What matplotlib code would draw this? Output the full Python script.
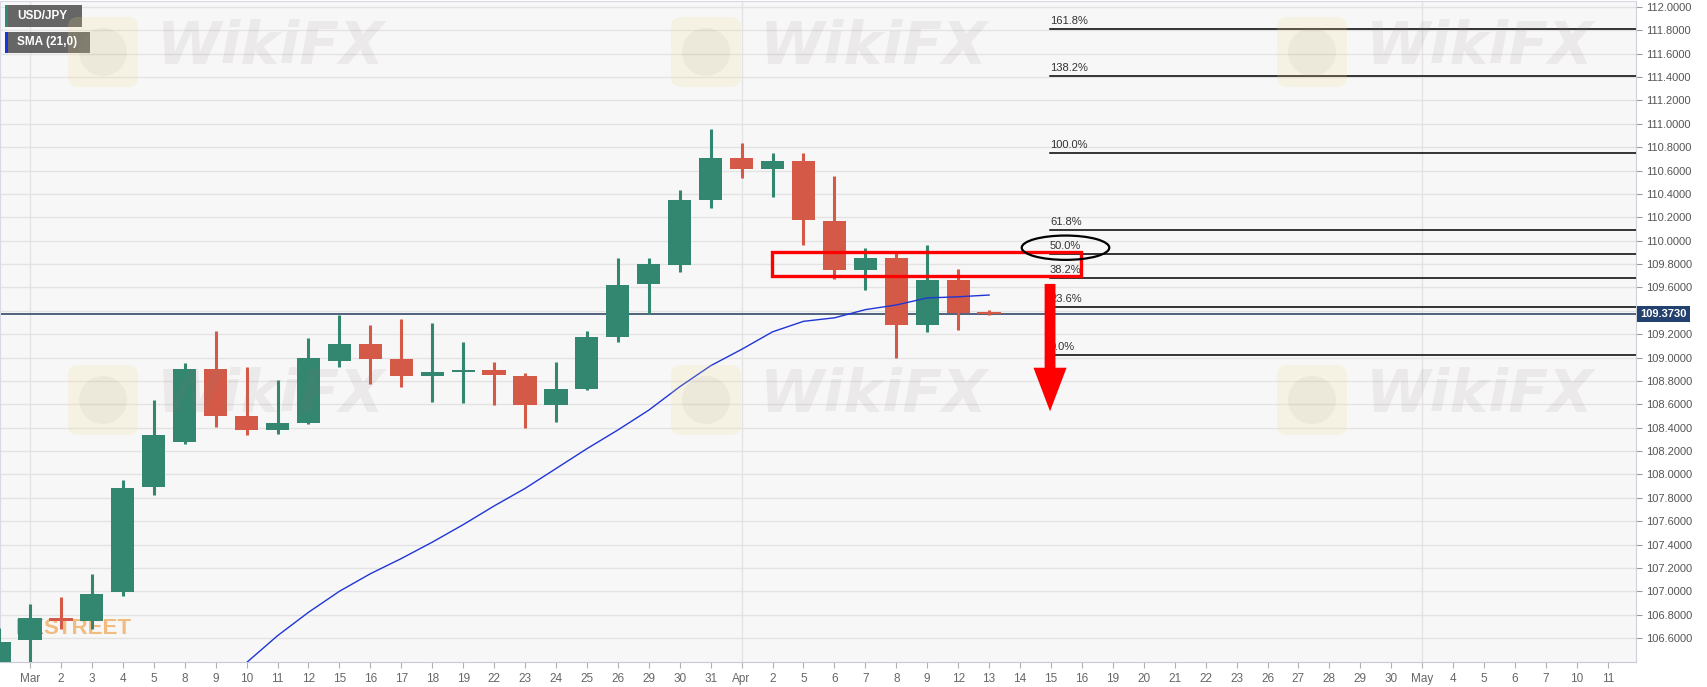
#!/usr/bin/env python3
# USD/JPY daily candles with SMA(21), fibonacci levels and markup
import numpy as np
import matplotlib
matplotlib.use('Agg')
import matplotlib.pyplot as plt
from matplotlib import font_manager
from matplotlib.patches import Ellipse, Rectangle, FancyBboxPatch, Circle
import matplotlib.transforms as mtransforms

sessions = ['Feb 26',
            'Mar 1', 'Mar 2', 'Mar 3', 'Mar 4', 'Mar 5', 'Mar 8', 'Mar 9', 'Mar 10',
            'Mar 11', 'Mar 12', 'Mar 15', 'Mar 16', 'Mar 17', 'Mar 18', 'Mar 19',
            'Mar 22', 'Mar 23', 'Mar 24', 'Mar 25', 'Mar 26', 'Mar 29', 'Mar 30',
            'Mar 31', 'Apr 1', 'Apr 2', 'Apr 5', 'Apr 6', 'Apr 7', 'Apr 8', 'Apr 9',
            'Apr 12', 'Apr 13', 'Apr 14', 'Apr 15', 'Apr 16', 'Apr 19', 'Apr 20',
            'Apr 21', 'Apr 22', 'Apr 23', 'Apr 26', 'Apr 27', 'Apr 28', 'Apr 29',
            'Apr 30', 'May 3', 'May 4', 'May 5', 'May 6', 'May 7', 'May 10', 'May 11']

# OHLC from Feb 26 to Apr 13
opens = [106.30, 106.58, 106.77, 106.75, 106.99, 107.89, 108.28, 108.90, 108.50,
         108.38, 108.44, 108.97, 109.12, 108.99, 108.84, 108.88, 108.89, 108.84,
         108.59, 108.73, 109.18, 109.63, 109.79, 110.35, 110.71, 110.61, 110.68,
         110.17, 109.75, 109.85, 109.28, 109.66, 109.39]
highs = [106.69, 106.89, 106.95, 107.15, 107.95, 108.64, 108.95, 109.23, 108.92,
         108.81, 109.17, 109.36, 109.28, 109.33, 109.30, 109.13, 108.96, 108.87,
         108.96, 109.23, 109.85, 109.85, 110.43, 110.96, 110.84, 110.75, 110.75,
         110.55, 109.94, 109.90, 109.96, 109.76, 109.41]
lows = [106.25, 106.36, 106.68, 106.68, 106.96, 107.82, 108.26, 108.41, 108.34,
        108.35, 108.43, 108.92, 108.77, 108.75, 108.62, 108.61, 108.59, 108.40,
        108.45, 108.72, 109.13, 109.37, 109.73, 110.28, 110.54, 110.37, 109.96,
        109.67, 109.58, 109.00, 109.22, 109.24, 109.36]
closes = [106.57, 106.77, 106.75, 106.98, 107.88, 108.34, 108.90, 108.50, 108.38,
          108.44, 109.00, 109.12, 108.99, 108.84, 108.88, 108.89, 108.85, 108.59,
          108.73, 109.18, 109.62, 109.80, 110.35, 110.71, 110.61, 110.68, 110.18,
          109.75, 109.85, 109.28, 109.66, 109.38, 109.373]

# SMA(21) from Mar 9 to Apr 13
sma_start = 'Mar 9'
sma = [106.16, 106.39, 106.62, 106.82, 107.00, 107.15, 107.28, 107.42, 107.57,
       107.73, 107.88, 108.05, 108.22, 108.38, 108.55, 108.75, 108.93, 109.07,
       109.22, 109.31, 109.34, 109.41, 109.45, 109.51, 109.52, 109.535]

last_price = 109.373

fib_labels = ['161.8%', '138.2%', '100.0%', '61.8%', '50.0%', '38.2%', '23.6%', '0.0%']
fib_prices = [111.814, 111.407, 110.748, 110.092, 109.883, 109.683, 109.433, 109.022]
fib_start = 'Apr 15'

yticks = np.round(np.arange(106.6, 112.01, 0.2), 1)

names = {f.name for f in font_manager.fontManager.ttflist}
base_font = 'Liberation Sans' if 'Liberation Sans' in names else 'DejaVu Sans'
narrow_font = 'Liberation Sans Narrow' if 'Liberation Sans Narrow' in names else base_font
plt.rcParams['font.family'] = [base_font, 'DejaVu Sans']

green = '#33866f'
red = '#d45a47'
W, H = 1707, 687

fig = plt.figure(figsize=(W / 100, H / 100), dpi=100)
ax = fig.add_axes([0, 25 / H, 1636 / W, 661 / H])
ax.set_facecolor('#f7f7f7')

x = np.arange(len(sessions))
xc = x[:len(opens)]
o = np.array(opens)
c = np.array(closes)
up = c >= o
cols = np.where(up, green, red)
bottoms = np.minimum(o, c)
heights = np.maximum(np.abs(c - o), 0.012)

ax.vlines(xc, lows, highs, colors=cols, linewidth=2.2, zorder=3)
ax.bar(xc, heights, bottom=bottoms, width=0.75, color=cols, zorder=4)

s0 = sessions.index(sma_start)
ax.plot(x[s0:s0 + len(sma)], sma, color='#1f35d6', linewidth=1.0, zorder=5)

ax.axhline(last_price, color='#23395d', linewidth=1.1, zorder=2.5)

f0 = sessions.index(fib_start)
for lab, p in zip(fib_labels, fib_prices):
    ax.plot([f0 - 0.03, 60], [p, p], color='black', linewidth=1.1, zorder=5)
    ax.text(f0 - 0.03, p + 0.025, lab, fontsize=8, color='#333333',
            ha='left', va='bottom', zorder=5)

# red zone, ellipse and arrow
ax.add_patch(Rectangle((24.97, 109.702), 10.0, 0.204, fill=False,
                       edgecolor='#ff0000', linewidth=2.4, zorder=6))
ax.add_patch(Ellipse((34.47, 109.94), 2.83, 0.208, fill=False,
                     edgecolor='black', linewidth=1.6, zorder=6))
ax.arrow(33.97, 109.63, 0, -(109.63 - 108.54), width=0.35, head_width=1.07,
         head_length=0.373, length_includes_head=True, color='#ff0000',
         linewidth=0, zorder=7)

ax.set_xlim(0.03, 52.91)
ax.set_ylim(106.395, 112.051)

# ticks
tick_pos = x[1:]
tick_lab = []
prev_month = None
for s in sessions[1:]:
    m, d = s.split()
    tick_lab.append(m if m != prev_month else d)
    prev_month = m
ax.set_xticks(tick_pos)
ax.set_xticklabels(tick_lab, fontsize=8.5, color='#666666', family=narrow_font)
ax.tick_params(axis='x', length=4, color='#b0b0b0', pad=4)

ax.yaxis.tick_right()
ax.set_yticks(yticks)
ax.set_yticklabels(['' if abs(v - 109.4) < 1e-6 else f'{v:.4f}' for v in yticks],
                   fontsize=8, color='#555555')
ax.tick_params(axis='y', length=4, color='#999999', pad=3)

# grid: horizontal at every tick, vertical at month starts
ax.grid(axis='y', color='#e3e3e3', linewidth=1)
for m in ['Mar 1', 'Apr 1', 'May 3']:
    ax.axvline(sessions.index(m), color='#e3e3e3', linewidth=1, zorder=0.5)
ax.set_axisbelow(True)

for side in ['left', 'top']:
    ax.spines[side].set_color('#d8d8e8')
ax.spines['right'].set_color('#d0d0d8')
ax.spines['bottom'].set_color('#c8c8d8')

# last price box
trans = mtransforms.blended_transform_factory(ax.transAxes, ax.transData)
ax.text(1.0025, last_price, f'{last_price:.4f}', transform=trans, fontsize=8,
        fontweight='bold', color='white', ha='left', va='center', zorder=10,
        clip_on=False,
        bbox=dict(boxstyle='square,pad=0.3', fc='#23416e', ec='none'))

# legend boxes (pixel positions from top-left)
px = fig.dpi_scale_trans


def box(x0, y0, w, h, stripe, label):
    fig.add_artist(Rectangle((x0 / 100, (H - y0 - h) / 100), w / 100, h / 100,
                             transform=px, fc='#5e5e5e', ec='none', alpha=0.95))
    fig.add_artist(Rectangle((x0 / 100, (H - y0 - h) / 100), 2.5 / 100, h / 100,
                             transform=px, fc=stripe, ec='none'))
    fig.text((x0 + 12) / W, 1 - (y0 + h / 2) / H, label, color='white',
             fontsize=8.5, fontweight='bold', ha='left', va='center')


box(5, 5, 77, 22, '#2e8b74', 'USD/JPY')
box(5, 32, 85, 21, '#1a33e0', 'SMA (21,0)')

# watermarks
for lx, ly in [(103, 52), (706, 52), (1312, 52), (103, 400), (706, 400), (1312, 400)]:
    fig.add_artist(FancyBboxPatch(((lx - 35) / 100, (H - ly - 35) / 100), 0.70, 0.70,
                                  boxstyle='round,pad=0,rounding_size=0.1',
                                  transform=px, fc='#f6dc8c', ec='none', alpha=0.18))
    fig.add_artist(Circle((lx / 100, (H - ly) / 100), 0.24, transform=px,
                          fc='#9a9090', ec='none', alpha=0.10))
    fig.text((lx + 168) / W, 1 - (ly - 5) / H, 'WikiFX', fontsize=42,
             fontweight='bold', style='italic', color='#8a7a7a', alpha=0.11,
             ha='center', va='center', family='DejaVu Sans')

# FXStreet mark under the candles
ax.text(0.0095, 0.05, 'FX', transform=ax.transAxes, fontsize=16,
        fontweight='bold', color='#8a8a8a', ha='left', va='center',
        family=narrow_font, zorder=1)
ax.text(0.0262, 0.05, 'STREET', transform=ax.transAxes, fontsize=16,
        fontweight='bold', color='#f0bc80', ha='left', va='center',
        family=narrow_font, zorder=1)

fig.savefig('out.png', dpi=100, facecolor='white')
